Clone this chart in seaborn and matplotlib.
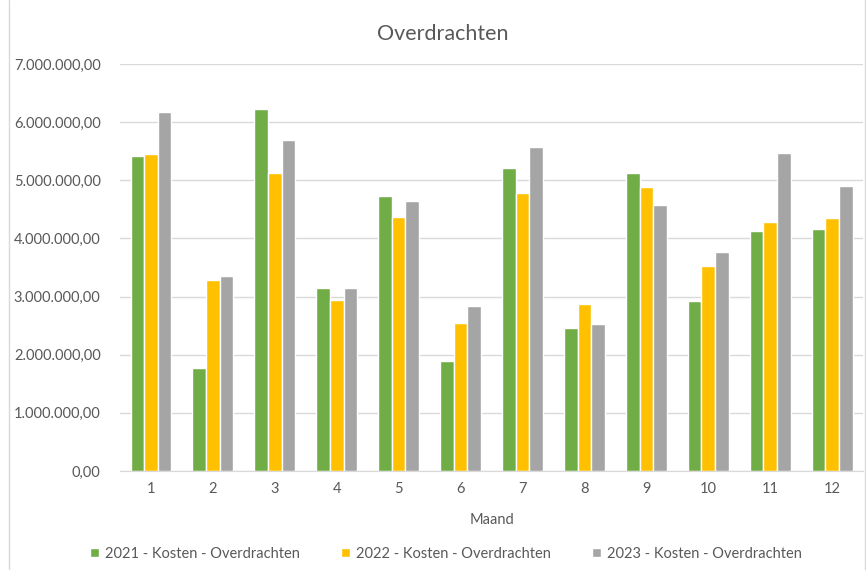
import pandas as pd
import numpy as np
import matplotlib
matplotlib.use("Agg")
import matplotlib.pyplot as plt
import matplotlib.ticker as mticker
from matplotlib.lines import Line2D
import seaborn as sns

maanden = [1, 2, 3, 4, 5, 6, 7, 8, 9, 10, 11, 12]
kosten_2021 = [5420000, 1780000, 6230000, 3150000, 4730000, 1890000, 5220000, 2460000, 5130000, 2930000, 4120000, 4170000]
kosten_2022 = [5450000, 3290000, 5130000, 2940000, 4370000, 2540000, 4790000, 2870000, 4890000, 3520000, 4280000, 4360000]
kosten_2023 = [6170000, 3350000, 5690000, 3140000, 4640000, 2830000, 5580000, 2530000, 4580000, 3770000, 5470000, 4900000]
reeksen = ["2021 - Kosten - Overdrachten", "2022 - Kosten - Overdrachten", "2023 - Kosten - Overdrachten"]
kleuren = ["#70AD47", "#FFC000", "#A5A5A5"]

df = pd.DataFrame({
    "Maand": maanden * 3,
    "Kosten": kosten_2021 + kosten_2022 + kosten_2023,
    "Reeks": [reeksen[0]] * 12 + [reeksen[1]] * 12 + [reeksen[2]] * 12,
})

sns.set_style("white")
plt.rcParams['font.family'] = ['Lato', 'DejaVu Sans']
tekst = "#595959"

fig = plt.figure(figsize=(8.66, 5.7), dpi=100)
ax = fig.add_axes([0.1386, 0.1737, 0.858, 0.714])

sns.barplot(data=df, x="Maand", y="Kosten", hue="Reeks", palette=kleuren,
            width=0.66, gap=0, saturation=1, ax=ax, legend=True)

ax.set_ylim(0, 7000000)
ax.set_yticks(np.arange(0, 7000001, 1000000))
ax.yaxis.set_major_formatter(mticker.FuncFormatter(
    lambda v, p: "{:,.2f}".format(v).replace(",", "X").replace(".", ",").replace("X", ".")))
ax.grid(axis="y", color="#D9D9D9", linewidth=1)
ax.set_axisbelow(True)
for s in ["left", "right", "top"]:
    ax.spines[s].set_visible(False)
ax.spines["bottom"].set_color("#D9D9D9")
ax.tick_params(axis="both", length=0, labelsize=10.5, colors=tekst)
ax.tick_params(axis="y", pad=14)
ax.tick_params(axis="x", pad=8)
ax.set_xlabel("Maand", fontsize=10.5, color=tekst, labelpad=12)
ax.set_ylabel("")
fig.text(443 / 866, 0.94, "Overdrachten", ha="center", va="center", fontsize=15.5, color=tekst)

handles, labels = ax.get_legend_handles_labels()
ax.legend(handles, labels, loc="center", bbox_to_anchor=(446 / 866, 1 - 554 / 570),
          bbox_transform=fig.transFigure, ncol=3, frameon=False,
          fontsize=10.5, handlelength=0.6, handleheight=0.6, handletextpad=0.4,
          columnspacing=2.85, labelcolor=tekst)

# chart border (left/right)
for xpos in [8.5 / 866, 864.5 / 866]:
    fig.add_artist(Line2D([xpos, xpos], [0, 1], transform=fig.transFigure,
                          color="#D9D9D9", linewidth=1))

fig.savefig("out.png", dpi=100)
